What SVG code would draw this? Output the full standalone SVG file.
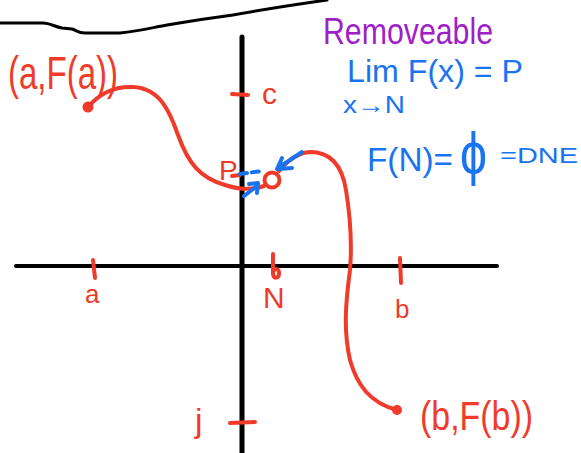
<svg xmlns="http://www.w3.org/2000/svg" width="581" height="453" viewBox="0 0 581 453">
<style>
.ink{fill:none;stroke-linecap:round;stroke-linejoin:round}
.blk{stroke:#000}
.red{stroke:#f03a2a;stroke-width:4}
.blu{stroke:#1a73f0;stroke-width:4}
.tr{fill:#f03a2a;font-family:"Liberation Sans",Arial,sans-serif}
.tb{fill:#1a73f0;font-family:"Liberation Sans",Arial,sans-serif}
.tp{fill:#a020c8;font-family:"Liberation Sans",Arial,sans-serif}
</style>
<rect width="581" height="453" fill="#fff"/>
<g id="top-edge">
<path class="ink blk" stroke-width="3" d="M0,23 L43,23 C50,23 55,27 62,28 L72,29 C76,30 78,33 85,33 L120,33 C140,31 155,27 167,25 C190,21 210,18 233,15 C260,10 285,6 327,0"/>
</g>
<g id="axes">
<path class="ink blk" stroke-width="5" stroke-linecap="butt" d="M242,37 L242,453"/>
<path class="ink blk" stroke-width="4" stroke-linecap="butt" d="M16,266 L497,266"/>
</g>
<g id="ticks">
<path class="ink red" d="M232,94 L248,95"/>
<path class="ink red" d="M230,423 L255,422"/>
<path class="ink red" d="M93,260 L95,278"/>
<path class="ink red" d="M400,258 L401,283"/>
<path class="ink red" d="M273,254 L273,274 C274,279 279,279 279,273 C279,268 275,268 273,272"/>
<path class="ink red" d="M232,176 L240,175"/>
</g>
<g id="curve">
<path class="ink red" d="M88,107 C100,93 115,86 133,87 C160,88 170,112 178,135 C188,163 200,178 225,185 C240,190 252,190 264,186"/>
<circle cx="272" cy="180" r="7.5" class="ink red"/>
<path class="ink red" d="M279,171 C288,160 297,153 310,152 C330,152 342,165 346,190 C350,215 352,245 350,270 C346,300 343,330 350,360 C357,385 370,403 397,410"/>
<circle cx="88" cy="107" r="5.5" fill="#f03a2a"/>
<circle cx="397" cy="410" r="5" fill="#f03a2a"/>
</g>
<g id="connectors">
<path class="ink blu" stroke-dasharray="7,5" d="M240,174 L262,171"/>
<path class="ink blu" d="M244,196 L257,186 M249,184 L258,183 L257,193"/>
<path class="ink blu" d="M302,152 L278,168 M282,158 L277,169 L292,168"/>
</g>
<g id="point-labels">
<text class="tr" x="8" y="89" font-size="46" textLength="110" lengthAdjust="spacingAndGlyphs">(a,F(a))</text>
<text class="tr" x="420" y="430" font-size="40" textLength="113" lengthAdjust="spacingAndGlyphs">(b,F(b))</text>
<text class="tr" x="262" y="104" font-size="30">c</text>
<text class="tr" x="219" y="180" font-size="28">P</text>
<text class="tr" x="195" y="432" font-size="34">j</text>
<text class="tr" x="85" y="303" font-size="26">a</text>
<text class="tr" x="263" y="308" font-size="30">N</text>
<text class="tr" x="395" y="318" font-size="26">b</text>
</g>
<g id="notes">
<text class="tp" x="323" y="44" font-size="36" textLength="170" lengthAdjust="spacingAndGlyphs">Removeable</text>
<text class="tb" x="347" y="82" font-size="32" textLength="176" lengthAdjust="spacingAndGlyphs">Lim F(x) = P</text>
<text class="tb" x="343" y="113" font-size="24" textLength="62" lengthAdjust="spacingAndGlyphs">x→N</text>
<text class="tb" x="367" y="171" font-size="34" textLength="86" lengthAdjust="spacingAndGlyphs">F(N)=</text>
<text class="tb" x="460" y="174" font-size="60" textLength="27" lengthAdjust="spacingAndGlyphs">ϕ</text>
<text class="tb" x="500" y="163" font-size="22" textLength="78" lengthAdjust="spacingAndGlyphs">=DNE</text>
</g>
</svg>
